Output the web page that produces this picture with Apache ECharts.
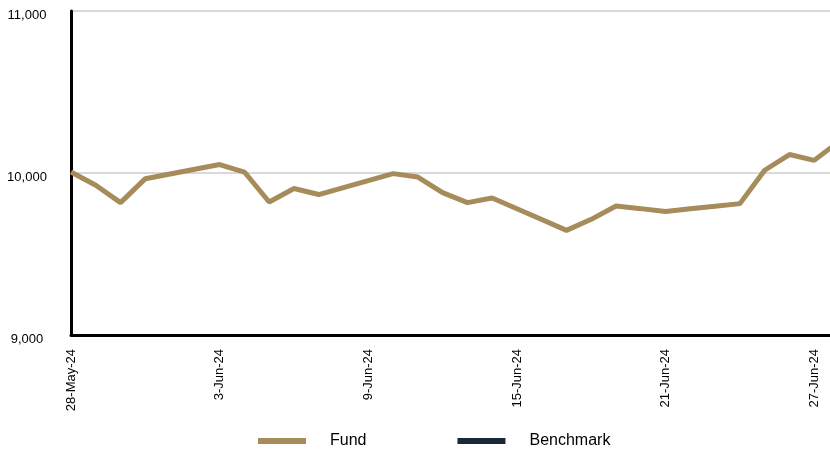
<!DOCTYPE html>
<html>
<head>
<meta charset="utf-8">
<script src="https://cdn.jsdelivr.net/npm/echarts@6/dist/echarts.min.js"></script>
<style>
  html, body { margin: 0; padding: 0; background: #fff; overflow: hidden; }
  #chart { width: 839px; height: 449px; }
</style>
</head>
<body>
<div id="chart"></div>
<script>
// dates on the x axis (daily); the last one runs just past the right edge
var dates = [
  '28-May-24', '29-May-24', '30-May-24', '31-May-24',
  '1-Jun-24', '2-Jun-24', '3-Jun-24', '4-Jun-24', '5-Jun-24', '6-Jun-24', '7-Jun-24',
  '8-Jun-24', '9-Jun-24', '10-Jun-24', '11-Jun-24', '12-Jun-24', '13-Jun-24', '14-Jun-24',
  '15-Jun-24', '16-Jun-24', '17-Jun-24', '18-Jun-24', '19-Jun-24', '20-Jun-24', '21-Jun-24',
  '22-Jun-24', '23-Jun-24', '24-Jun-24', '25-Jun-24', '26-Jun-24', '27-Jun-24', '28-Jun-24'
];

// growth of 10,000
var fund = [
  10006, 9924, 9817, 9965,
  9994, 10023, 10052, 10006, 9821, 9904, 9867,
  9910, 9953, 9996, 9975, 9879, 9817, 9846,
  9779, 9713, 9646, 9714, 9796, 9780, 9763,
  9779, 9795, 9811, 10017, 10114, 10078, 10195
];
var benchmark = [];

var yTicks = [9000, 10000, 11000];

var gold = '#a68b5b';
var navy = '#1b2838';
var font = 'Liberation Sans, Arial, sans-serif';

var myChart = echarts.init(document.getElementById('chart'));

var option = {
  animation: false,
  grid: { left: 71, right: 0, top: 11, bottom: 114, containLabel: false },
  legend: {
    left: 258,
    top: 433,
    padding: 0,
    icon: 'rect',
    itemWidth: 48,
    itemHeight: 6,
    itemGap: 91,
    textStyle: { fontFamily: font, fontSize: 16, color: '#000', padding: [0, 0, 0, 19] },
    data: ['Fund', 'Benchmark']
  },
  xAxis: {
    type: 'category',
    data: dates,
    boundaryGap: false,
    axisLine: { lineStyle: { color: '#000', width: 3 } },
    axisTick: { show: false },
    axisLabel: {
      interval: 5,
      rotate: 90,
      margin: 14,
      fontFamily: font,
      fontSize: 13,
      color: '#000'
    },
    splitLine: { show: false }
  },
  yAxis: {
    type: 'value',
    min: yTicks[0],
    max: yTicks[yTicks.length - 1],
    interval: 1000,
    axisLine: { show: true, lineStyle: { color: '#000', width: 3 } },
    axisTick: { show: false },
    axisLabel: {
      margin: 44,
      align: 'center',
      verticalAlign: 'top',
      lineHeight: 8,
      fontFamily: font,
      fontSize: 13,
      color: '#000',
      formatter: function (v) { return v.toLocaleString('en-US'); }
    },
    splitLine: { lineStyle: { color: '#d9d9d9', width: 2 } }
  },
  series: [
    {
      name: 'Benchmark',
      type: 'line',
      data: benchmark,
      symbol: 'none',
      color: navy,
      lineStyle: { color: navy, width: 5 }
    },
    {
      name: 'Fund',
      type: 'line',
      data: fund,
      symbol: 'none',
      color: gold,
      lineStyle: { color: gold, width: 5 }
    }
  ]
};

myChart.setOption(option);
</script>
</body>
</html>
